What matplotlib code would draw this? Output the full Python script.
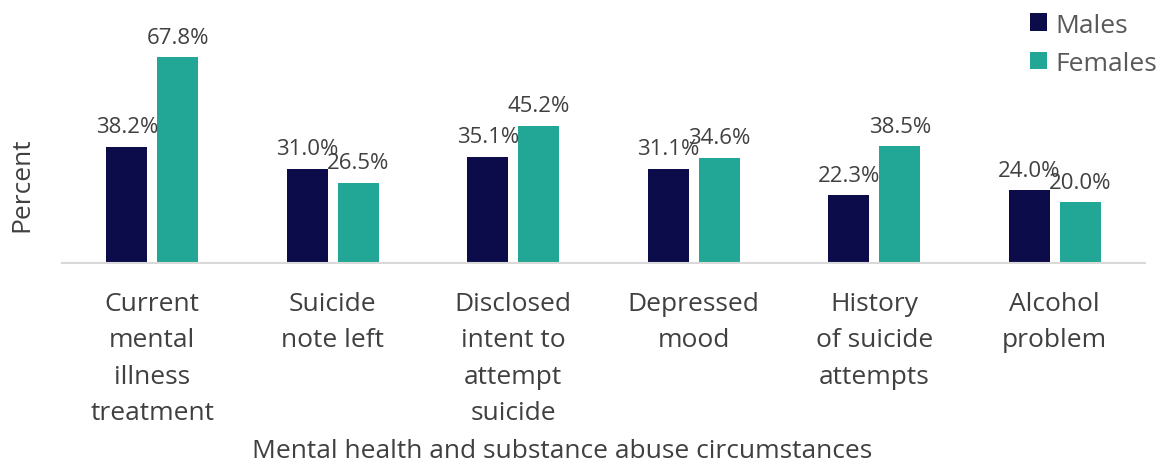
import matplotlib.pyplot as plt
import numpy as np

categories = ["Current\nmental\nillness\ntreatment", "Suicide\nnote left",
              "Disclosed\nintent to\nattempt\nsuicide", "Depressed\nmood",
              "History\nof suicide\nattempts", "Alcohol\nproblem"]
males = [38.2, 31.0, 35.1, 31.1, 22.3, 24.0]
females = [67.8, 26.5, 45.2, 34.6, 38.5, 20.0]

plt.rcParams['font.family'] = ['Open Sans', 'DejaVu Sans']

fig = plt.figure(figsize=(11.63, 4.64), dpi=100)
ax = fig.add_axes([62 / 1163, 200 / 464, 1083 / 1163, 254 / 464])

x = np.arange(len(categories))
w = 0.227
off = 0.141
b1 = ax.bar(x - off, males, w, color='#0c0c4a', label='Males')
b2 = ax.bar(x + off, females, w, color='#22a696', label='Females')

for bars, vals in ((b1, males), (b2, females)):
    for r, v in zip(bars, vals):
        ax.annotate(f"{v:.1f}%", (r.get_x() + r.get_width() / 2, v),
                    xytext=(0, 7), textcoords='offset points',
                    ha='center', va='bottom', fontsize=16, color='#404040')

ax.set_xlim(-0.5, 5.5)
ax.set_ylim(0, 83.8)
ax.set_xticks(x)
ax.set_xticklabels(categories, fontsize=19, color='#404040', linespacing=1.6)
ax.tick_params(axis='x', length=0, pad=20)
ax.set_yticks([])
for s in ['top', 'right', 'left']:
    ax.spines[s].set_visible(False)
ax.spines['bottom'].set_color('#d9d9d9')
ax.spines['bottom'].set_linewidth(1.5)

fig.text(562 / 1163, 12 / 464, "Mental health and substance abuse circumstances",
         ha='center', va='center', fontsize=19, color='#404040')
fig.text(22 / 1163, (464 - 185) / 464, "Percent", rotation=90, ha='center', va='center',
         fontsize=19, color='#404040')

leg = fig.legend(handles=[b1, b2], loc='upper left', bbox_to_anchor=(1014 / 1163, 1.005),
                 frameon=False, fontsize=19, handlelength=0.65, handleheight=0.65,
                 handletextpad=0.3, labelspacing=0.5, labelcolor='#595959',
                 borderaxespad=0.2)

fig.savefig('out.png', dpi=100)
